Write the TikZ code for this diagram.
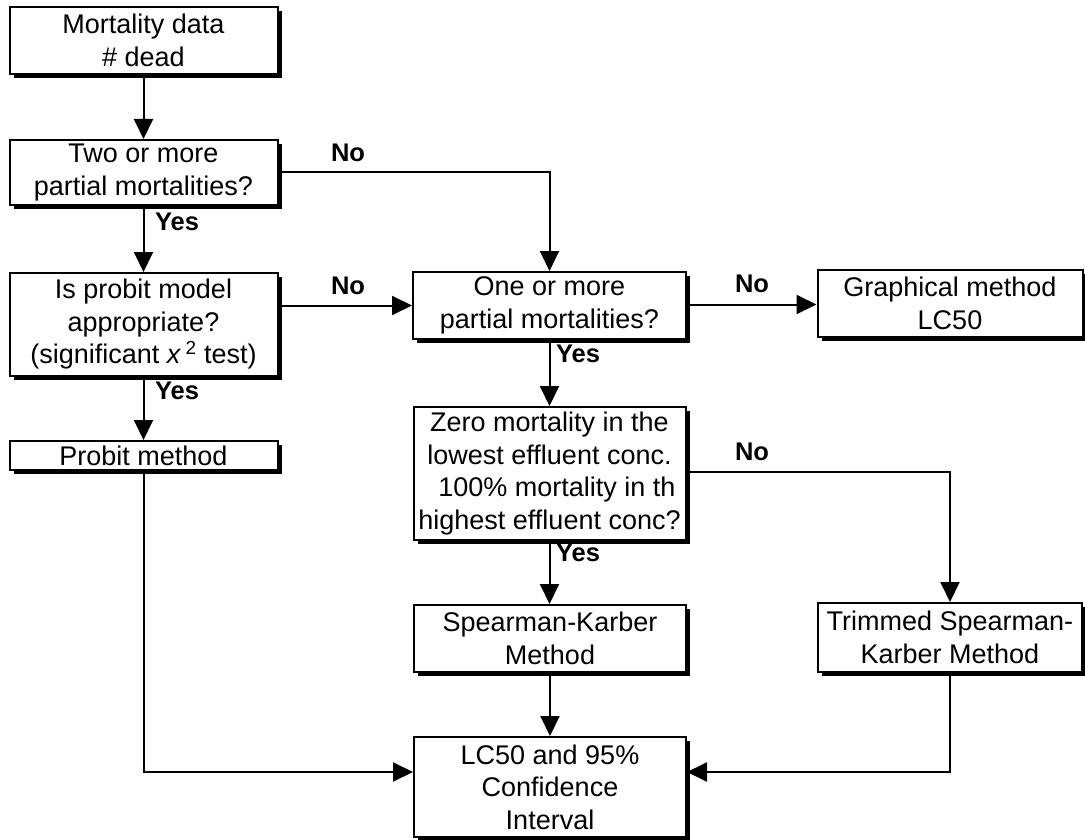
\documentclass[tikz,border=0pt]{standalone}
\usepackage{fontspec}
\setmainfont{Liberation Sans}
\usetikzlibrary{arrows.meta,shadows}

\begin{document}
\begin{tikzpicture}[x=1pt, y=-1pt,
  box/.style={draw, line width=2pt, fill=white, align=center, inner sep=1pt,
    font=\fontsize{27}{32.5}\selectfont,
    drop shadow={shadow xshift=4pt, shadow yshift=-4pt, opacity=1, fill=black}},
  arr/.style={line width=2pt, -{Triangle[length=20pt,width=19pt]}},
  lbl/.style={font=\fontsize{25.5}{30}\selectfont\bfseries, inner sep=0pt}]

\useasboundingbox (0,0) rectangle (1085,840);

% left column
\node[box, minimum width=268pt, minimum height=67pt] (data) at (143.5,40.5) {Mortality data\\\# dead};
\node[box, minimum width=268pt, minimum height=65pt] (two) at (143.5,172.5) {Two or more\\partial mortalities?};
\node[box, minimum width=268pt, minimum height=103pt] (probit) at (143.5,324.5) {Is probit model\\appropriate?\\(significant \textit{x}\,\textsuperscript{2} test)};
\node[box, minimum width=268pt, minimum height=29pt] (pmeth) at (143.5,455.5) {Probit method};

% middle column
\node[box, minimum width=273pt, minimum height=67pt] (one) at (549.5,305.5) {One or more\\partial mortalities?};
\node[box, minimum width=272pt, minimum height=133pt] (zero) at (549.5,473.5) {Zero mortality in the\\lowest effluent conc.\\\ \ 100\% mortality in th\\highest effluent conc?};
\node[box, minimum width=272pt, minimum height=67pt] (sk) at (550,638.5) {Spearman-Karber\\Method};
\node[box, minimum width=272pt, minimum height=100pt] (lc) at (550,787) {LC50 and 95\%\\Confidence\\Interval};

% right column
\node[box, minimum width=265pt, minimum height=67pt] (graph) at (950,303.5) {Graphical method\\LC50};
\node[box, minimum width=264pt, minimum height=69pt] (tsk) at (950,637.5) {Trimmed Spearman-\\Karber Method};

% connectors
\draw[arr] (data.south) -- (two.north);
\draw[arr] (two.south) -- (probit.north);
\draw[arr] (probit.south) -- (pmeth.north);
\draw[arr] (two.east) -| (one.north);
\draw[arr] (probit.east |- one.west) -- (one.west);
\draw[arr] ([yshift=1pt]one.east) -- ([yshift=1pt]one.east -| graph.west);
\draw[arr] (one.south) -- (one.south |- zero.north);
\draw[arr] (zero.south) -- (zero.south |- sk.north);
\draw[arr] ([yshift=1.5pt]zero.east) -| (tsk.north);
\draw[arr] (sk.south) -- (lc.north);
\draw[arr] (pmeth.south) |- ([yshift=15pt]lc.west);
\draw[arr] (tsk.south) |- ([yshift=15pt]lc.east);

% labels
\node[lbl] (yes1) at (177,222) {Yes};
\node[lbl] (yes2) at (177,391) {Yes};
\node[lbl] (yes3) at (578,354) {Yes};
\node[lbl] (yes4) at (578,553) {Yes};
\node[lbl] (no1) at (348,153) {No};
\node[lbl] (no2) at (348,286) {No};
\node[lbl] (no3) at (752,284) {No};
\node[lbl] (no4) at (752,452) {No};

\end{tikzpicture}
\end{document}
